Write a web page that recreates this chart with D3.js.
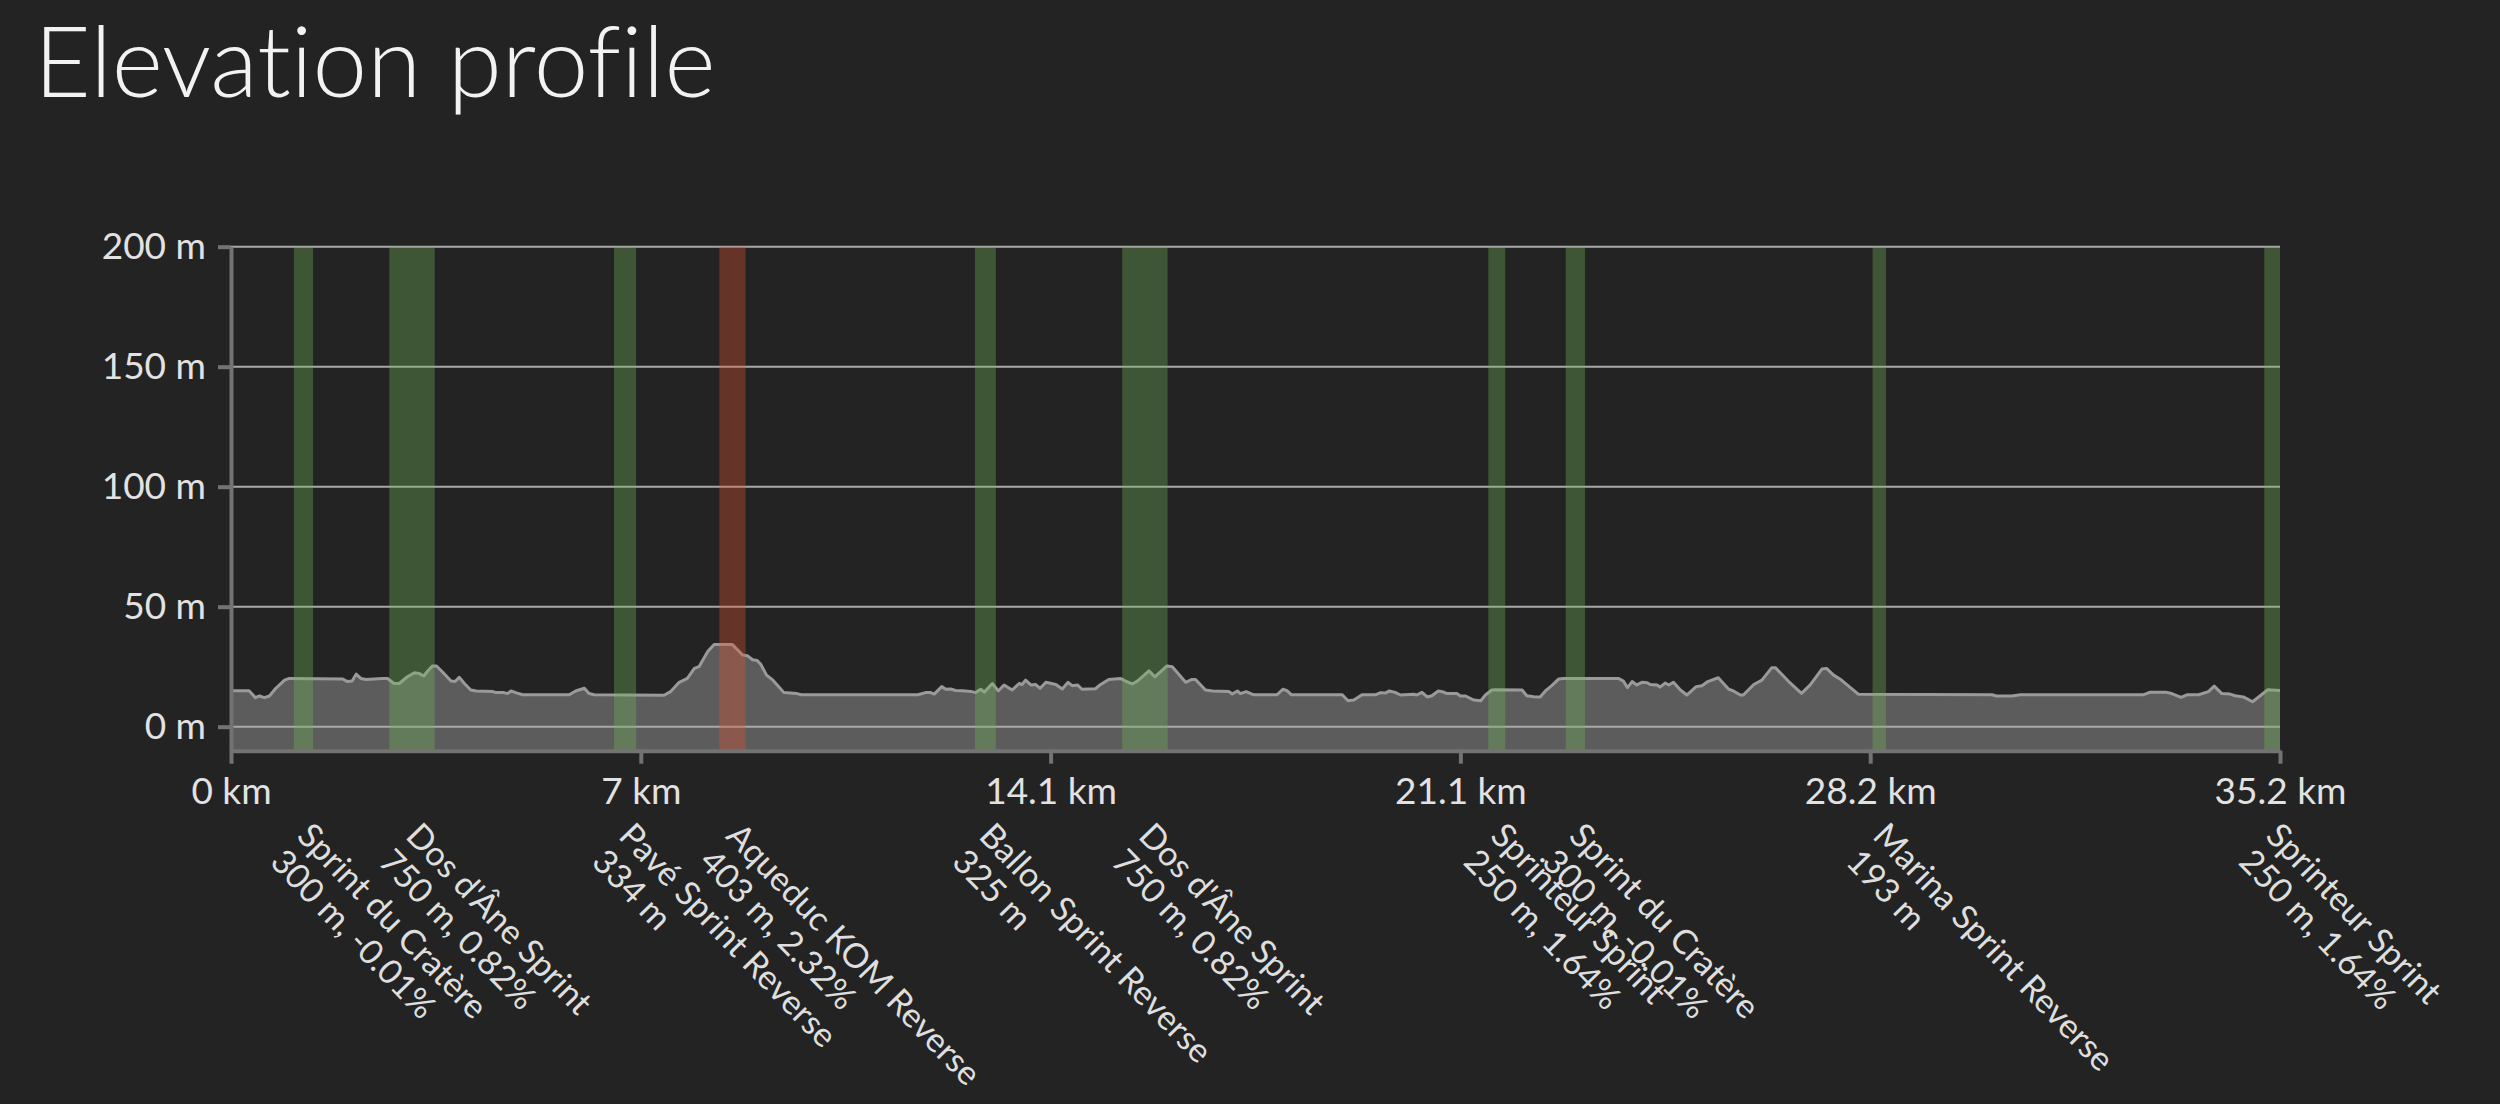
<!DOCTYPE html>
<html>
<head>
<meta charset="utf-8">
<title>Elevation profile</title>
<script src="https://cdn.jsdelivr.net/npm/d3@7"></script>
<style>
  html, body { margin: 0; padding: 0; background: #232323; overflow: hidden; }
  svg { display: block; }
</style>
</head>
<body>
<svg id="chart"></svg>
<script>
// ── Data ─────────────────────────────────────
const distKm = [
  0, 0.31, 0.42, 0.49, 0.57, 0.66, 0.77, 0.92, 1.0, 1.92, 2.0, 2.08, 2.15, 2.23, 2.32,
  2.6, 2.69, 2.8, 2.89, 3.03, 3.15, 3.23, 3.31, 3.38, 3.46, 3.53, 3.63, 3.78, 3.85, 3.92,
  4.01, 4.12, 4.21, 4.49, 4.55, 4.69, 4.75, 4.81, 4.89, 5.01, 5.81, 5.92, 6.07, 6.15, 6.24,
  7.44, 7.55, 7.7, 7.84, 7.96, 8.04, 8.19, 8.3, 8.61, 8.79, 8.87, 8.96, 9.04, 9.1, 9.2,
  9.31, 9.5, 9.72, 9.8, 11.8, 11.93, 12.02, 12.08, 12.21, 12.28, 12.36, 12.45, 12.56, 12.71, 12.79,
  12.88, 12.94, 13.08, 13.18, 13.28, 13.42, 13.54, 13.59, 13.65, 13.74, 13.82, 13.9, 14.0, 14.17, 14.28,
  14.38, 14.45, 14.54, 14.62, 14.85, 14.94, 15.08, 15.28, 15.37, 15.48, 15.57, 15.77, 15.87, 15.97, 16.08,
  16.17, 16.4, 16.51, 16.57, 16.74, 16.86, 17.14, 17.2, 17.29, 17.34, 17.44, 17.57, 17.97, 18.07, 18.14,
  18.22, 19.09, 19.19, 19.29, 19.43, 19.66, 19.75, 19.83, 19.9, 20.0, 20.09, 20.32, 20.37, 20.46, 20.55,
  20.63, 20.74, 20.81, 20.89, 21.06, 21.12, 21.21, 21.35, 21.47, 21.55, 21.66, 21.72, 22.18, 22.26, 22.38,
  22.49, 22.58, 22.69, 22.81, 22.89, 23.84, 23.92, 23.99, 24.07, 24.15, 24.24, 24.33, 24.38, 24.5, 24.55,
  24.64, 24.7, 24.78, 24.9, 25.01, 25.17, 25.27, 25.37, 25.55, 25.73, 25.81, 25.93, 25.98, 26.16, 26.3,
  26.47, 26.53, 26.76, 26.98, 27.13, 27.33, 27.41, 27.53, 27.64, 27.96, 30.25, 30.33, 30.59, 30.74, 32.85,
  32.97, 33.23, 33.34, 33.5, 33.6, 33.8, 33.97, 34.07, 34.2, 34.34, 34.43, 34.57, 34.73, 34.86, 34.99,
  35.2
];
const elevM = [
  15, 15, 12.1, 12.8, 12.1, 12.8, 16, 19.4, 20.1, 19.9, 18.8, 19, 21.9, 20.1, 19.7,
  20.1, 20.1, 18, 18, 20.8, 22.5, 22.2, 21.1, 23.2, 25.3, 25.3, 22.9, 19, 18.8, 20.6,
  18, 15.3, 14.9, 14.7, 14.2, 14.2, 13.8, 14.9, 14.2, 13.3, 13.3, 14.9, 16, 13.8, 13.3,
  13.1, 14.6, 18.5, 20.1, 24.3, 25, 31.3, 34.3, 34.3, 29.9, 29.6, 27.9, 27.6, 26, 21.5,
  19.4, 14.2, 13.8, 13.3, 13.3, 14.2, 14.2, 13.6, 16.7, 15.6, 15.7, 15.1, 15, 14.7, 14.2,
  15.6, 14.4, 18, 14.9, 17.4, 15.3, 18, 17.6, 19.4, 17.4, 17.6, 16, 18.5, 17.6, 15.7,
  18.5, 17.1, 17.4, 15.6, 15.8, 17.6, 19.7, 20.1, 19, 17.8, 19, 23.3, 20.8, 22.9, 25.3,
  25, 18.5, 19.7, 19.7, 15.3, 14.9, 14.7, 13.6, 14.9, 13.8, 14.6, 13.3, 13.3, 15.6, 15,
  13.3, 13.3, 10.8, 11.1, 13.3, 13.3, 14.2, 14, 14.9, 14.3, 13.2, 13.5, 13.2, 14.3, 12.4,
  12.9, 14.9, 14.6, 13.8, 13.8, 12.8, 12.8, 11.1, 10.8, 13.2, 15.3, 15.4, 15.3, 12.9, 12.5,
  12.4, 14.9, 17.1, 19.9, 20.1, 20.1, 19, 16.3, 18.8, 17.4, 18.5, 18.3, 17.6, 17.4, 16.5,
  18.2, 17.4, 18.5, 15.3, 13.2, 16.7, 17.1, 18.8, 20.4, 15.6, 14.9, 13.2, 13.2, 17.6, 19.4,
  24.6, 24.6, 18.8, 13.9, 17.4, 24, 24.3, 21.5, 19.9, 13.5, 13.3, 12.8, 12.8, 13.3, 13.3,
  14.4, 14.4, 13.8, 12.2, 13.3, 13.3, 14.6, 16.9, 13.8, 13.6, 12.9, 12.4, 10.4, 12.9, 15.4,
  15.1
];

const segNames = [
  "Sprint du Cratère", "Dos d'Âne Sprint", "Pavé Sprint Reverse", "Aqueduc KOM Reverse",
  "Ballon Sprint Reverse", "Dos d'Âne Sprint", "Sprinteur Sprint", "Sprint du Cratère",
  "Marina Sprint Reverse", "Sprinteur Sprint"
];
const segInfo = [
  "300 m, -0.01%", "750 m, 0.82%", "334 m", "403 m, 2.32%", "325 m",
  "750 m, 0.82%", "250 m, 1.64%", "300 m, -0.01%", "193 m", "250 m, 1.64%"
];
const segStartKm = [1.08, 2.72, 6.58, 8.39, 12.78, 15.31, 21.60, 22.93, 28.20, 34.93];
const segEndKm   = [1.41, 3.50, 6.96, 8.84, 13.14, 16.09, 21.89, 23.26, 28.43, 35.20];
const segKind    = ["sprint", "sprint", "sprint", "kom", "sprint", "sprint", "sprint", "sprint", "sprint", "sprint"];

const yTicks      = [0, 50, 100, 150, 200];
const xTickValues = [0, 7.04, 14.08, 21.12, 28.16, 35.2];
const xTickLabels = ["0 km", "7 km", "14.1 km", "21.1 km", "28.2 km", "35.2 km"];

// ── Layout ───────────────────────────────────
const W = 2500, H = 1104;
const plotL = 231, plotR = 2280;
const plotT = 246.7, plotB = 750.7;
const FONT = "Lato, 'Open Sans', sans-serif";

const svg = d3.select("#chart").attr("width", W).attr("height", H);

svg.append("rect").attr("width", W).attr("height", H).attr("fill", "#232323");

svg.append("text")
  .attr("x", 34).attr("y", 97)
  .attr("fill", "#f2f2f2")
  .attr("font-family", FONT)
  .attr("font-weight", 300)
  .attr("font-size", "98px")
  .style("font-variant-ligatures", "none")
  .text("Elevation profile");

const x = d3.scaleLinear().domain([0, 35.2]).range([plotL, plotR]);
const y = d3.scaleLinear().domain([-10, 200]).range([plotB, plotT]);

const profile = distKm.map((d, i) => ({ d, e: elevM[i] }));

// ── Area + line ──────────────────────────────
svg.append("path")
  .datum(profile)
  .attr("fill", "#5c5c5c")
  .attr("d", d3.area().x(p => x(p.d)).y0(plotB).y1(p => y(p.e)));

svg.append("path")
  .datum(profile)
  .attr("fill", "none")
  .attr("stroke", "#9a9a9a")
  .attr("stroke-width", 3)
  .attr("stroke-linejoin", "round")
  .attr("d", d3.line().x(p => x(p.d)).y(p => y(p.e)));

// ── Grid lines ───────────────────────────────
svg.append("g")
  .selectAll("line")
  .data(yTicks)
  .join("line")
  .attr("x1", plotL).attr("x2", plotR)
  .attr("y1", d => y(d)).attr("y2", d => y(d))
  .attr("stroke", "#a9a9a9")
  .attr("stroke-width", 2);

// ── Segment bands ────────────────────────────
const segs = segNames.map((name, i) => ({
  name, info: segInfo[i], s: segStartKm[i], e: segEndKm[i], kind: segKind[i]
}));

svg.append("g")
  .selectAll("rect")
  .data(segs)
  .join("rect")
  .attr("x", d => x(d.s))
  .attr("width", d => x(d.e) - x(d.s))
  .attr("y", plotT)
  .attr("height", plotB - plotT)
  .attr("fill", d => d.kind === "kom" ? "#e95335" : "#71b959")
  .attr("fill-opacity", 0.34);

// ── Axes ─────────────────────────────────────
const styleAxis = g => {
  g.select(".domain").attr("stroke", "#737373").attr("stroke-width", 4);
  g.selectAll(".tick line").attr("stroke", "#737373").attr("stroke-width", 4);
  g.selectAll(".tick text")
    .attr("fill", "#e2e2e2")
    .attr("font-size", "37px")
    .attr("font-family", FONT);
};

svg.append("g")
  .attr("transform", `translate(${plotL},0)`)
  .call(d3.axisLeft(y).tickValues(yTicks).tickFormat(d => d + " m")
    .tickSize(13).tickSizeOuter(0).tickPadding(12))
  .call(styleAxis);

svg.append("g")
  .attr("transform", `translate(0,${plotB})`)
  .call(d3.axisBottom(x).tickValues(xTickValues).tickFormat((d, i) => xTickLabels[i])
    .tickSize(13).tickSizeOuter(0).tickPadding(14))
  .call(styleAxis);

// ── Segment labels ───────────────────────────
const labels = svg.append("g")
  .selectAll("g")
  .data(segs)
  .join("g")
  .attr("transform", d => `translate(${x((d.s + d.e) / 2) + 8},822) rotate(46)`);

const lt = labels.append("text")
  .attr("fill", "#dedede")
  .attr("font-size", "34px")
  .attr("font-family", FONT);

lt.append("tspan").attr("x", 0).attr("dy", "0.65em").text(d => d.name);
lt.append("tspan").attr("x", 0).attr("dy", "1.1em").text(d => d.info);
</script>
</body>
</html>
